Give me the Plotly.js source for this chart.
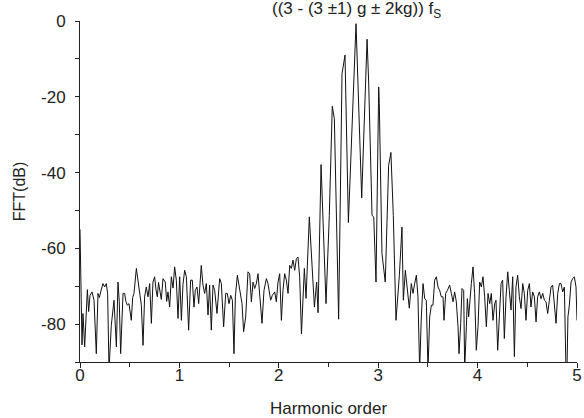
<!DOCTYPE html>
<html>
<head>
<meta charset="utf-8">
<script src="https://cdn.plot.ly/plotly-3.0.1.min.js"></script>
<style>html,body{margin:0;padding:0;background:#fff;}#chart{width:584px;height:418px;}</style>
</head>
<body>
<div id="chart"></div>
<script>
// Harmonic order (x) and FFT magnitude in dB (y)
const harmonic = [
0, 0.020, 0.030, 0.047, 0.074, 0.087, 0.100, 0.121, 0.141, 0.164, 0.181, 0.195, 0.208, 0.231, 0.248, 0.265, 0.278, 0.292, 0.315, 0.330,
0.342, 0.366, 0.382, 0.395, 0.409, 0.433, 0.449, 0.462, 0.476, 0.493, 0.516, 0.530, 0.543, 0.567, 0.584, 0.600, 0.617, 0.634, 0.650, 0.667,
0.684, 0.701, 0.718, 0.734, 0.751, 0.765, 0.778, 0.790, 0.801, 0.818, 0.835, 0.858, 0.872, 0.885, 0.902, 0.919, 0.936, 0.952, 0.969, 0.986,
1.003, 1.020, 1.036, 1.053, 1.070, 1.093, 1.113, 1.130, 1.147, 1.160, 1.177, 1.194, 1.220, 1.237, 1.254, 1.271, 1.288, 1.304, 1.321, 1.338,
1.355, 1.378, 1.405, 1.422, 1.445, 1.466, 1.482, 1.499, 1.516, 1.533, 1.549, 1.563, 1.583, 1.606, 1.630, 1.646, 1.667, 1.690, 1.707, 1.724,
1.741, 1.757, 1.774, 1.791, 1.808, 1.831, 1.851, 1.875, 1.891, 1.918, 1.935, 1.959, 1.975, 1.992, 2.009, 2.026, 2.042, 2.059, 2.076, 2.093,
2.110, 2.126, 2.143, 2.160, 2.177, 2.193, 2.210, 2.228, 2.257, 2.274, 2.307, 2.334, 2.358, 2.381, 2.395, 2.425, 2.441, 2.475, 2.508, 2.538,
2.559, 2.602, 2.636, 2.666, 2.700, 2.777, 2.834, 2.888, 2.904, 2.938, 2.955, 2.978, 3.005, 3.011, 3.038, 3.071, 3.105, 3.128, 3.152, 3.179,
3.213, 3.239, 3.253, 3.273, 3.296, 3.313, 3.333, 3.350, 3.367, 3.384, 3.400, 3.417, 3.434, 3.451, 3.468, 3.484, 3.501, 3.518, 3.535, 3.551,
3.568, 3.585, 3.602, 3.618, 3.635, 3.652, 3.662, 3.679, 3.696, 3.719, 3.736, 3.753, 3.769, 3.786, 3.803, 3.813, 3.830, 3.843, 3.860, 3.870,
3.887, 3.897, 3.910, 3.920, 3.937, 3.954, 3.970, 3.987, 4.004, 4.021, 4.038, 4.054, 4.071, 4.088, 4.105, 4.122, 4.138, 4.155, 4.172, 4.185,
4.202, 4.219, 4.236, 4.252, 4.269, 4.286, 4.303, 4.319, 4.336, 4.353, 4.370, 4.386, 4.403, 4.420, 4.437, 4.454, 4.470, 4.487, 4.504, 4.521,
4.537, 4.554, 4.571, 4.588, 4.604, 4.621, 4.638, 4.655, 4.672, 4.688, 4.705, 4.722, 4.739, 4.755, 4.772, 4.789, 4.806, 4.823, 4.839, 4.856,
4.873, 4.889, 4.899, 4.909, 4.923, 4.940, 4.957, 4.973, 4.990, 5.000
];
const fftDb = [
-55, -85.5, -77.2, -86, -70.9, -76.7, -72.5, -71.5, -73.7, -87.8, -71.9, -73.0, -71.5, -69.3, -70.2, -69.3, -72.0, -92, -80.3, -76,
-73.7, -86.0, -68.9, -74, -87.8, -71.9, -71.9, -74, -75.0, -74.6, -79.0, -73, -71.9, -65.3, -69, -71.1, -75.0, -85.6, -72.8, -70.2,
-72.8, -69.3, -79.8, -68.9, -67.5, -71, -72.8, -69, -70.6, -73.5, -68.0, -68.9, -74, -71.5, -75.5, -67.5, -70.5, -64.9, -68.4, -78.5,
-67.5, -79.0, -69.5, -65.8, -67.5, -81.6, -68.4, -68.4, -75.5, -71.1, -70.2, -74.6, -64.5, -69.7, -71.9, -69.3, -77.6, -69.7, -81.6, -69.7,
-71.1, -77.2, -68.0, -69.3, -80.7, -71.9, -71.9, -74.6, -72.4, -73.7, -87.8, -72.8, -67.1, -71.1, -74.6, -82.0, -78.1, -66.2, -66.7, -74.1,
-68.9, -70.6, -69.3, -66.7, -72.4, -79.8, -71.1, -68.0, -69.3, -73.7, -72.4, -71.5, -74.1, -68.9, -66.7, -79.0, -71.1, -66.7, -68.4, -71.9,
-64.5, -65.3, -63.1, -65.8, -62.7, -62.3, -67.5, -82.6, -65.3, -73.2, -51.7, -65.3, -75.5, -68.9, -77.0, -37.9, -51.3, -74.6, -51.3, -22.5,
-25.8, -78.7, -13.9, -9.0, -53.2, -0.7, -46.7, -4.8, -16.1, -51.3, -51.7, -68.9, -17.4, -21.8, -61.4, -68.9, -38.1, -34.7, -51.3, -79.0,
-67.1, -54.4, -73.7, -65.8, -71.5, -75.8, -69.3, -71.9, -69.3, -67.1, -72.8, -92, -78.1, -69.3, -73.3, -73.7, -92, -78.1, -75.0, -75.0,
-68.4, -67.5, -70.2, -71.1, -72.8, -72.8, -79.0, -71.9, -71.1, -69.7, -71.9, -74.1, -71.5, -74.1, -80.7, -87.8, -79.8, -70.6, -71.1, -92,
-80.7, -73.3, -78.1, -73.7, -69.3, -64.9, -71.9, -86.9, -80.7, -68.9, -70.2, -67.5, -72.8, -80.7, -71.9, -74.6, -71.9, -79.0, -74.6, -73.7,
-86.9, -78.1, -69.3, -68.4, -83.8, -72.8, -66.2, -71.1, -76.3, -67.5, -88.6, -70.2, -67.1, -72.8, -75.9, -69.3, -71.9, -79.0, -71.1, -69.3,
-75.5, -71.5, -72.8, -79.4, -72.8, -71.5, -73.3, -71.9, -73.7, -74.1, -77.2, -73.7, -70.2, -69.7, -74.6, -79.8, -71.9, -69.3, -69.3, -71.5,
-70.2, -92, -92, -78.1, -75.0, -68.9, -68.0, -67.5, -70.2, -79.0
];
const xTickVals = [0, 1, 2, 3, 4, 5];
const yTickVals = [0, -20, -40, -60, -80];
const annotationText = '((3 - (3 \u00b11) g \u00b1 2kg)) f<sub>S</sub>';

const axisColor = '#222';
const fontFamily = '"Liberation Sans", Arial, sans-serif';

const trace = {
  x: harmonic, y: fftDb, type: 'scatter', mode: 'lines',
  line: {color: '#111', width: 1}, hoverinfo: 'x+y'
};

const layout = {
  width: 584, height: 418,
  margin: {l: 80, r: 7, t: 21, b: 56, pad: 0},
  paper_bgcolor: '#fff', plot_bgcolor: '#fff',
  font: {family: fontFamily, size: 17, color: '#222'},
  showlegend: false,
  xaxis: {
    range: [0, 5], tickvals: xTickVals, ticktext: xTickVals.map(String),
    ticks: 'outside', ticklen: 5, tickwidth: 1, tickcolor: axisColor,
    showline: true, linecolor: axisColor, linewidth: 1,
    showgrid: false, zeroline: false,
    minor: {dtick: 0.5, tick0: 0, ticks: 'outside', ticklen: 4, tickcolor: axisColor, showgrid: false},
    tickfont: {size: 17}, ticklabelstandoff: -7,
    title: {text: 'Harmonic order', font: {size: 17}, standoff: 21}
  },
  yaxis: {
    range: [-90, 0], tickvals: yTickVals, ticktext: yTickVals.map(String),
    ticks: 'outside', ticklen: 4, tickwidth: 1, tickcolor: axisColor,
    showline: true, linecolor: axisColor, linewidth: 1,
    showgrid: false, zeroline: false,
    minor: {dtick: 10, tick0: 0, ticks: 'outside', ticklen: 4, tickcolor: axisColor, showgrid: false},
    tickfont: {size: 17}, ticklabelstandoff: 6,
    title: {text: 'FFT(dB)', font: {size: 16}, standoff: 11}
  },
  annotations: [{
    text: annotationText, xref: 'paper', yref: 'paper',
    x: 0.556, y: 1.032, xanchor: 'center', yanchor: 'middle',
    showarrow: false, font: {size: 17, color: '#222'}
  }]
};

Plotly.newPlot('chart', [trace], layout, {displayModeBar: false, staticPlot: true});
</script>
</body>
</html>
